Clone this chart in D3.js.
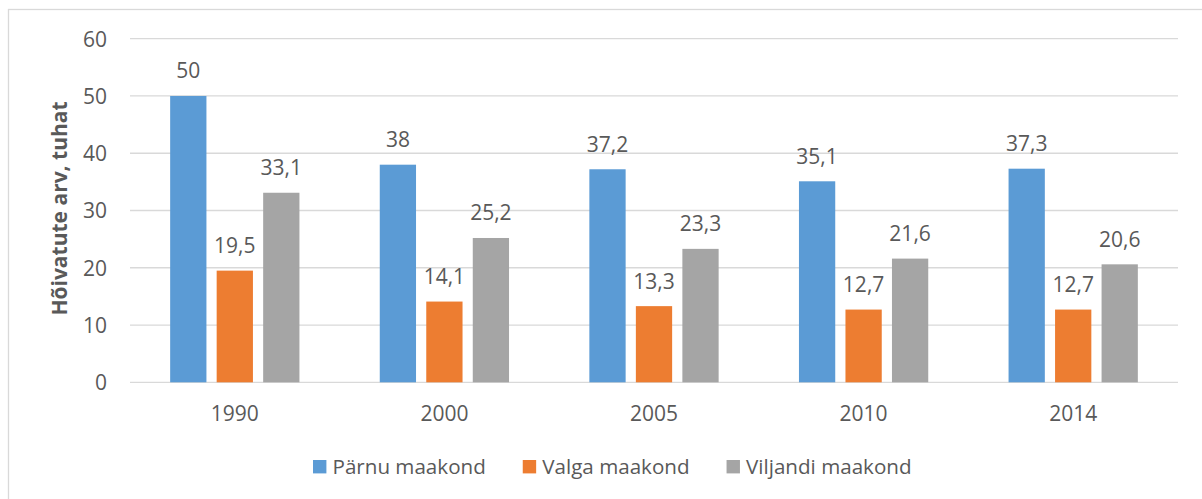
<!DOCTYPE html>
<html>
<head>
<meta charset="utf-8">
<script src="https://cdn.jsdelivr.net/npm/d3@7/dist/d3.min.js"></script>
<style>
html,body{margin:0;padding:0;background:#fff;}
svg{display:block;}
text{font-family:"Open Sans",sans-serif;fill:#595959;}
</style>
</head>
<body>
<svg id="chart" width="1202" height="499"></svg>
<script>
const categories = ["1990", "2000", "2005", "2010", "2014"];
const seriesNames = ["Pärnu maakond", "Valga maakond", "Viljandi maakond"];
const parnu = [50, 38, 37.2, 35.1, 37.3];
const valga = [19.5, 14.1, 13.3, 12.7, 12.7];
const viljandi = [33.1, 25.2, 23.3, 21.6, 20.6];
const yTicks = [0, 10, 20, 30, 40, 50, 60];
const colors = ["#5B9BD5", "#ED7D31", "#A5A5A5"];
const yTitle = "Hõivatute arv, tuhat";

const seriesValues = [parnu, valga, viljandi];
const svg = d3.select("#chart");

// outer border
svg.append("rect").attr("x", 8.5).attr("y", 9.5).attr("width", 1300).attr("height", 600)
  .attr("fill", "none").attr("stroke", "#D9D9D9").attr("stroke-width", 1.3);

const plot = {left: 130, right: 1178, top: 38.7, bottom: 382.3};
const x0 = d3.scaleBand().domain(categories).range([plot.left, plot.right]).padding(0);
const bw = x0.bandwidth();
const x1 = d3.scaleBand().domain(seriesNames).range([bw * 0.1916, bw * 0.8084]).paddingInner(0.22).paddingOuter(0);
const y = d3.scaleLinear().domain([0, 60]).range([plot.bottom, plot.top]);

// gridlines
svg.append("g").selectAll("line").data(yTicks).join("line")
  .attr("x1", plot.left).attr("x2", plot.right)
  .attr("y1", d => y(d)).attr("y2", d => y(d))
  .attr("stroke", "#D9D9D9").attr("stroke-width", 1.3);

// y axis labels
const yAxis = d3.axisLeft(y).tickValues(yTicks).tickSize(0).tickPadding(0).tickFormat(d3.format("d"));
const gy = svg.append("g").attr("transform", `translate(${107},0)`).call(yAxis);
gy.select(".domain").remove();
gy.selectAll("text").style("font-family", '"Open Sans",sans-serif').style("font-size", "21px").attr("fill", "#595959").attr("dy", "0.35em");

// x axis labels
const xAxis = d3.axisBottom(x0).tickSize(0).tickPadding(0);
const gx = svg.append("g").attr("transform", `translate(0,${plot.bottom})`).call(xAxis);
gx.select(".domain").remove();
gx.selectAll("text").style("font-family", '"Open Sans",sans-serif').style("font-size", "21px").attr("fill", "#595959").attr("y", 38.5).attr("dy", 0);

// bars
const rows = categories.map((c, i) => ({cat: c, vals: seriesNames.map((s, j) => ({s, j, v: seriesValues[j][i]}))}));
const groups = svg.append("g").selectAll("g").data(rows).join("g")
  .attr("transform", d => `translate(${x0(d.cat)},0)`);
groups.selectAll("rect").data(d => d.vals).join("rect")
  .attr("x", d => x1(d.s)).attr("width", x1.bandwidth())
  .attr("y", d => y(d.v)).attr("height", d => y(0) - y(d.v))
  .attr("fill", d => colors[d.j]);
const fmt = v => String(v).replace(".", ",");
groups.selectAll("text").data(d => d.vals).join("text")
  .attr("x", d => x1(d.s) + x1.bandwidth() / 2)
  .attr("y", d => y(d.v) - 17.5)
  .attr("text-anchor", "middle").style("font-size", "21px")
  .text(d => fmt(d.v));

// y title
svg.append("text")
  .attr("transform", `translate(67,${(plot.top + plot.bottom) / 2 - 2}) rotate(-90)`)
  .attr("text-anchor", "middle").style("font-size", "21px").style("font-weight", "bold")
  .text(yTitle);

// legend
const legend = svg.append("g");
let lx = 313;
seriesNames.forEach((s, j) => {
  legend.append("rect").attr("x", lx).attr("y", 460).attr("width", 13.4).attr("height", 13.4).attr("fill", colors[j]);
  const t = legend.append("text").attr("x", lx + 19.5).attr("y", 474).style("font-size", "20.6px").text(s);
  const w = t.node().getComputedTextLength();
  lx = lx + 19.5 + w + 37;
});
</script>
</body>
</html>
